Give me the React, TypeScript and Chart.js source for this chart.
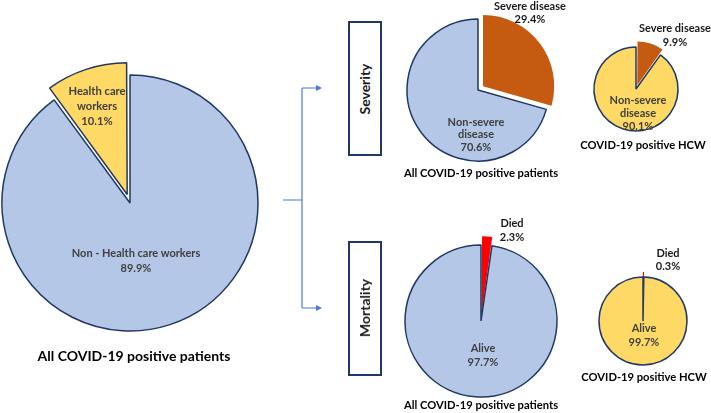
import React, { useEffect, useRef } from "react";
import { Chart, registerables } from "chart.js";

Chart.register(...registerables);

// ---- data ----
const allLabels = ["Non - Health care workers", "Health care workers"];
const allValues = [89.9, 10.1];

const sevAllLabels = ["Severe disease", "Non-severe disease"];
const sevAllValues = [29.4, 70.6];

const sevHcwLabels = ["Severe disease", "Non-severe disease"];
const sevHcwValues = [9.9, 90.1];

const mortAllLabels = ["Died", "Alive"];
const mortAllValues = [2.3, 97.7];

const mortHcwLabels = ["Died", "Alive"];
const mortHcwValues = [0.3, 99.7];

const titleAll = "All COVID-19 positive patients";
const titleHcw = "COVID-19 positive HCW";

// ---- styles ----
const BLUE = "#B4C7E7";
const YELLOW = "#FFD966";
const ORANGE = "#C55A11";
const RED = "#FF0000";
const NAVY = "#203864";
const FONT = "Lato, 'Open Sans', sans-serif";

type PieProps = {
  cx: number;
  cy: number;
  r: number;
  labels: string[];
  values: number[];
  colors: string[];
  borderColors: string[];
  borderWidths: number[];
  offsets: number[];
};

function Pie({ cx, cy, r, labels, values, colors, borderColors, borderWidths, offsets }: PieProps) {
  const ref = useRef<HTMLCanvasElement | null>(null);
  const size = Math.round(2 * (r + 24));
  useEffect(() => {
    if (!ref.current) return;
    const chart = new Chart(ref.current, {
      type: "pie",
      data: {
        labels,
        datasets: [
          {
            data: values,
            backgroundColor: colors,
            borderColor: borderColors,
            borderWidth: borderWidths,
            offset: offsets,
          },
        ],
      },
      options: {
        responsive: false,
        animation: false,
        radius: r,
        rotation: 0,
        layout: { padding: 0 },
        plugins: { legend: { display: false }, tooltip: { enabled: false } },
      } as any,
    });
    return () => chart.destroy();
  }, []);
  return (
    <canvas
      ref={ref}
      width={size}
      height={size}
      style={{ position: "absolute", left: cx - size / 2, top: cy - size / 2, width: size, height: size }}
    />
  );
}

type TextProps = {
  x: number;
  y: number;
  lines: string[];
  size: number;
  lh: number;
  color?: string;
  rotate?: boolean;
};

function Txt({ x, y, lines, size, lh, color = "#404040", rotate }: TextProps) {
  return (
    <div
      style={{
        position: "absolute",
        left: x,
        top: y,
        transform: `translate(-50%, -50%)${rotate ? " rotate(-90deg)" : ""}`,
        fontFamily: FONT,
        fontWeight: 700,
        fontSize: size,
        lineHeight: `${lh}px`,
        color,
        whiteSpace: "nowrap",
        textAlign: "center",
      }}
    >
      {lines.map((l, i) => (
        <div key={i}>{l}</div>
      ))}
    </div>
  );
}

const pct = (v: number) => `${v.toFixed(1)}%`;

export default function App() {
  const arrow = "#4A7BD6";
  return (
    <div
      style={{
        position: "fixed",
        left: 0,
        top: 0,
        width: 711,
        height: 413,
        background: "#fff",
        overflow: "hidden",
      }}
    >
      <Pie
        cx={130}
        cy={203}
        r={128}
        labels={allLabels}
        values={allValues}
        colors={[BLUE, YELLOW]}
        borderColors={[NAVY, NAVY]}
        borderWidths={[1.5, 1.5]}
        offsets={[0, 36]}
      />
      <Pie
        cx={478}
        cy={90}
        r={71}
        labels={sevAllLabels}
        values={sevAllValues}
        colors={[ORANGE, BLUE]}
        borderColors={[ORANGE, NAVY]}
        borderWidths={[0, 1.5]}
        offsets={[25, 0]}
      />
      <Pie
        cx={636}
        cy={89}
        r={42}
        labels={sevHcwLabels}
        values={sevHcwValues}
        colors={[ORANGE, YELLOW]}
        borderColors={[ORANGE, NAVY]}
        borderWidths={[0, 1.5]}
        offsets={[16, 0]}
      />
      <Pie
        cx={481}
        cy={321}
        r={76}
        labels={mortAllLabels}
        values={mortAllValues}
        colors={[RED, BLUE]}
        borderColors={[RED, NAVY]}
        borderWidths={[0, 1.5]}
        offsets={[19, 0]}
      />
      <Pie
        cx={643}
        cy={321}
        r={44}
        labels={mortHcwLabels}
        values={mortHcwValues}
        colors={[RED, YELLOW]}
        borderColors={[RED, NAVY]}
        borderWidths={[1, 1.5]}
        offsets={[10, 0]}
      />

      <svg
        width={711}
        height={413}
        style={{ position: "absolute", left: 0, top: 0 }}
      >
        <path d="M283 200 H302 M302 88 V308 M302 88 H317 M302 308 H317" stroke={arrow} strokeWidth={1.2} fill="none" />
        <path d="M322 88 L316 85 L316 91 Z" fill={arrow} />
        <path d="M322 308 L316 305 L316 311 Z" fill={arrow} />
        <rect x={349} y={22} width={32} height={133} fill="#fff" stroke={NAVY} strokeWidth={2} />
        <rect x={349} y={242} width={32} height={133} fill="#fff" stroke={NAVY} strokeWidth={2} />
      </svg>

      <Txt x={365} y={88.5} lines={["Severity"]} size={14} lh={16} color="#1a1a1a" rotate />
      <Txt x={365} y={308} lines={["Mortality"]} size={14} lh={16} color="#1a1a1a" rotate />

      <Txt x={97} y={105} lines={["Health care", "workers", pct(allValues[1])]} size={11.2} lh={15} />
      <Txt x={136} y={259.5} lines={[allLabels[0], pct(allValues[0])]} size={11} lh={15} />
      <Txt x={134} y={356} lines={[titleAll]} size={14} lh={18} color="#000" />

      <Txt x={530} y={11.5} lines={[sevAllLabels[0], pct(sevAllValues[0])]} size={11} lh={13} color="#1a1a1a" />
      <Txt x={476} y={134.5} lines={["Non-severe", "disease", pct(sevAllValues[1])]} size={11} lh={12.5} />
      <Txt x={481} y={173} lines={[titleAll]} size={11.2} lh={14} color="#000" />

      <Txt x={675} y={35} lines={[sevHcwLabels[0], pct(sevHcwValues[0])]} size={11} lh={14} color="#1a1a1a" />
      <Txt x={638} y={112} lines={["Non-severe", "disease", pct(sevHcwValues[1])]} size={11} lh={13} />
      <Txt x={643} y={145} lines={[titleHcw]} size={11.2} lh={14} color="#000" />

      <Txt x={512} y={230} lines={[mortAllLabels[0], pct(mortAllValues[0])]} size={11} lh={14} color="#1a1a1a" />
      <Txt x={483} y={355} lines={[mortAllLabels[1], pct(mortAllValues[1])]} size={11} lh={14} />
      <Txt x={481} y={405} lines={[titleAll]} size={11.2} lh={14} color="#000" />

      <Txt x={668} y={258.5} lines={[mortHcwLabels[0], pct(mortHcwValues[0])]} size={11} lh={13} color="#1a1a1a" />
      <Txt x={644} y={335} lines={[mortHcwLabels[1], pct(mortHcwValues[1])]} size={11} lh={14} />
      <Txt x={644} y={377} lines={[titleHcw]} size={11.2} lh={14} color="#000" />
    </div>
  );
}
